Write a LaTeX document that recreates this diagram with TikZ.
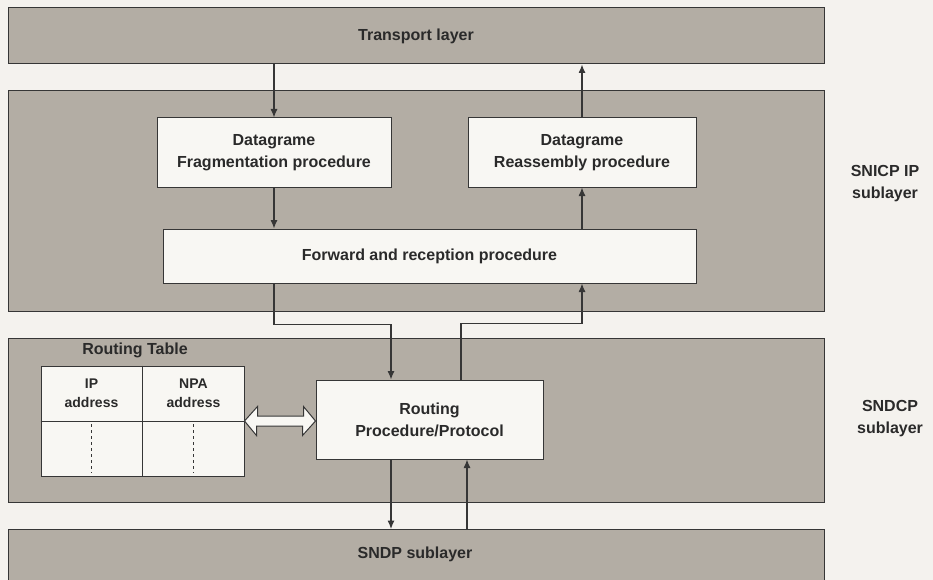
\documentclass[tikz,border=0pt]{standalone}
\usepackage{fontspec}
\setmainfont{Liberation Sans}
\usetikzlibrary{calc,arrows.meta}
\definecolor{paper}{HTML}{F4F2EE}
\definecolor{layerfill}{HTML}{B3ADA4}
\definecolor{boxfill}{HTML}{F8F7F3}
\definecolor{ink}{HTML}{2A2A2A}
\definecolor{rulecol}{HTML}{363636}

\begin{document}
\begin{tikzpicture}[x=1pt,y=-1pt,
  layer/.style={draw=rulecol, line width=1pt, fill=layerfill, inner sep=0pt,
    text=ink, font=\bfseries\fontsize{16}{22}\selectfont},
  proc/.style={draw=rulecol, line width=1pt, fill=boxfill, inner sep=0pt,
    align=center, text=ink, font=\bfseries\fontsize{16}{22}\selectfont},
  lbl/.style={align=center, text=ink, inner sep=0pt,
    font=\bfseries\fontsize{16}{22}\selectfont},
  small/.style={lbl, font=\bfseries\fontsize{14}{19}\selectfont},
  grid/.style={draw=rulecol, line width=1pt},
  dashline/.style={draw=rulecol, line width=0.8pt, dash pattern=on 3pt off 3pt},
  flow/.style={draw=rulecol, line width=1.1pt, -{Latex[length=8.5pt,width=7pt]}},
]
\fill[paper] (0,0) rectangle (933,580);
\useasboundingbox (0,0) rectangle (933,580);

% layer bands
\node[layer, minimum width=816pt, minimum height=56pt] (tl) at (416,36) {Transport layer};
\node[layer, minimum width=816pt, minimum height=220pt] (snicp) at (416,201) {};
\node[layer, minimum width=816pt, minimum height=164pt] (sndcp) at (416,420) {};
\node[layer, minimum width=816pt, minimum height=70pt, anchor=north] (sndp) at (416,529) {};
\node[lbl] (sndplbl) at (415,554) {SNDP sublayer};

% sublayer names on the right
\node[lbl] (snicplbl) at (885,184) {SNICP IP\\sublayer};
\node[lbl] (sndcplbl) at (890,419) {SNDCP\\sublayer};

% procedures
\node[proc, minimum width=234pt, minimum height=69pt] (frag) at (274,152.5) {Datagrame\\Fragmentation procedure};
\node[proc, minimum width=228pt, minimum height=69pt] (reas) at (582,152.5) {Datagrame\\Reassembly procedure};
\node[proc, minimum width=533pt, minimum height=54pt] (fwd) at (429.5,256) {Forward and reception procedure};
\node[proc, minimum width=227pt, minimum height=79pt] (rp) at (429.5,419.5) {Routing\\Procedure/Protocol};

% routing table
\node[lbl] (rtlbl) at (135,350) {Routing Table};
\node[proc, minimum width=203pt, minimum height=110pt] (tbl) at (142.5,421) {};
\draw[grid] (tbl.north) -- (tbl.south);
\draw[grid] (tbl.west) -- (tbl.east);
\coordinate (ipcol) at ($(tbl.west)!0.25!(tbl.east)$);
\coordinate (npacol) at ($(tbl.west)!0.75!(tbl.east)$);
\draw[dashline] ($(ipcol)+(0,3)$) -- ($(ipcol |- tbl.south)+(0,-4)$);
\draw[dashline] ($(npacol)+(0,3)$) -- ($(npacol |- tbl.south)+(0,-4)$);
\node[small] (iphead) at ($(tbl.north west)!0.5!(tbl.center)$) {IP\\address};
\node[small] (npahead) at ($(tbl.north east)!0.5!(tbl.center)$) {NPA\\address};

% hollow two-way arrow between table and routing procedure
\coordinate (dl) at (tbl.east);
\coordinate (dr) at (tbl.east -| rp.west);
\draw[draw=rulecol, line width=1pt, fill=boxfill, line join=miter]
  (dl) -- ++(13,-14.5) -- ++(0,9.5) -- ++(46,0) -- ++(0,-9.5) -- (dr)
  -- ++(-13,14.5) -- ++(0,-9.5) -- ++(-46,0) -- ++(0,9.5) -- cycle;

% data flow
\draw[flow] (frag.north |- tl.south) -- (frag.north);
\draw[flow] (reas.north) -- (reas.north |- tl.south);
\draw[flow] (frag.south) -- (frag.south |- fwd.north);
\draw[flow] (reas.south |- fwd.north) -- (reas.south);
\draw[flow] (frag.south |- fwd.south) -- ++(0,41) -| ([xshift=-38.5pt]rp.north);
\draw[flow] ([xshift=31.5pt]rp.north) -- ++(0,-56) -| (reas.south |- fwd.south);
\draw[flow] ([xshift=-38.5pt]rp.south) -- ([xshift=-38.5pt]rp.south |- sndp.north);
\draw[flow] ([xshift=37.5pt]rp.south |- sndp.north) -- ([xshift=37.5pt]rp.south);
\end{tikzpicture}
\end{document}
